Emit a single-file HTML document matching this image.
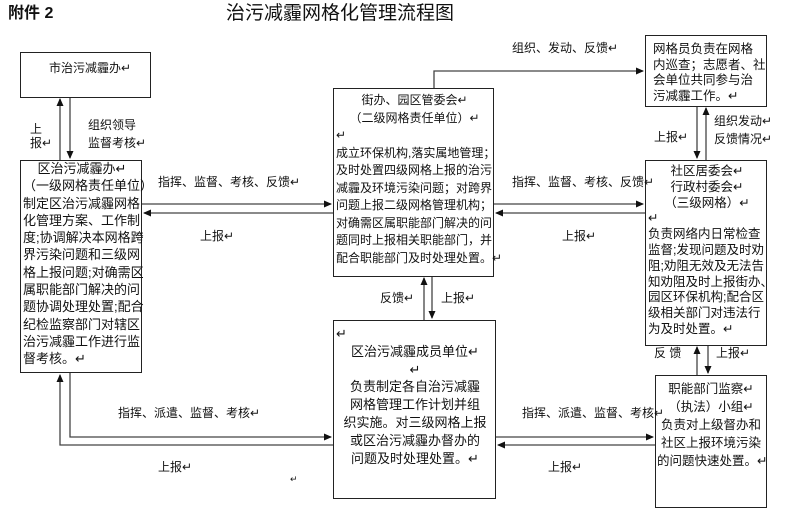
<!DOCTYPE html>
<html><head><meta charset="utf-8"><style>
body{margin:0;width:800px;height:530px;background:#fff;position:relative;overflow:hidden;font-family:"Liberation Sans","Noto Sans CJK SC",sans-serif;color:#111}
.b{position:absolute;border:1px solid #222;box-sizing:border-box;background:#fff}
.t{position:absolute;white-space:nowrap;font-size:12px;line-height:14px}
.bx{position:absolute;white-space:nowrap}
svg{position:absolute;left:0;top:0}
</style></head><body>
<svg width="800" height="530">
<defs><marker id="a" markerWidth="8" markerHeight="8" refX="7" refY="4" orient="auto" markerUnits="userSpaceOnUse"><path d="M0,0.5 L8,4 L0,7.5z" fill="#111"/></marker></defs>
<g stroke="#444" stroke-width="1.3" fill="none">
<line x1="60" y1="160" x2="60" y2="99" marker-end="url(#a)"/>
<line x1="70" y1="97" x2="70" y2="158" marker-end="url(#a)"/>
<line x1="142" y1="204" x2="331" y2="204" marker-end="url(#a)"/>
<line x1="333" y1="213" x2="144" y2="213" marker-end="url(#a)"/>
<line x1="494" y1="204" x2="643" y2="204" marker-end="url(#a)"/>
<line x1="645" y1="213" x2="496" y2="213" marker-end="url(#a)"/>
<polyline points="434,88 434,71 643,71" marker-end="url(#a)"/>
<line x1="697" y1="106" x2="697" y2="158" marker-end="url(#a)"/>
<line x1="706" y1="160" x2="706" y2="108" marker-end="url(#a)"/>
<line x1="424" y1="320" x2="424" y2="278" marker-end="url(#a)"/>
<line x1="432" y1="276" x2="432" y2="318" marker-end="url(#a)"/>
<polyline points="70,373 70,437 331,437" marker-end="url(#a)"/>
<polyline points="333,445 60,445 60,375" marker-end="url(#a)"/>
<line x1="496" y1="437" x2="653" y2="437" marker-end="url(#a)"/>
<line x1="655" y1="445" x2="498" y2="445" marker-end="url(#a)"/>
<line x1="697" y1="375" x2="697" y2="347" marker-end="url(#a)"/>
<line x1="708" y1="345" x2="708" y2="373" marker-end="url(#a)"/>
</g></svg>

<div class="t" style="left:8px;top:5px;font-size:16px;line-height:18px;font-weight:bold">附件 2</div>
<div class="t" style="left:226px;top:3px;font-size:19px;line-height:22px">治污减霾网格化管理流程图</div>

<div class="b" style="left:20px;top:52px;width:131px;height:46px"></div>
<div class="t" style="left:49px;top:61px">市治污减霾办↵</div>

<div class="b" style="left:20px;top:160px;width:122px;height:213px"></div>
<div class="bx" style="left:23px;top:160px;font-size:13px;line-height:17.3px;width:118px">
<div style="text-align:center">区治污减霾办↵</div><div>（一级网格责任单位）</div>
<div>制定区治污减霾网格</div><div>化管理方案、工作制</div><div>度;协调解决本网格跨</div><div>界污染问题和三级网</div><div>格上报问题;对确需区</div><div>属职能部门解决的问</div><div>题协调处理处置;配合</div><div>纪检监察部门对辖区</div><div>治污减霾工作进行监</div><div>督考核。↵</div></div>

<div class="b" style="left:333px;top:88px;width:161px;height:189px"></div>
<div class="bx" style="left:336px;top:92px;font-size:12px;line-height:17.5px;width:157px">
<div style="text-align:center">街办、园区管委会↵</div><div style="text-align:center">（二级网格责任单位）↵</div><div>↵</div>
<div>成立环保机构,落实属地管理；</div><div>及时处置四级网格上报的治污</div><div>减霾及环境污染问题；对跨界</div><div>问题上报二级网格管理机构；</div><div>对确需区属职能部门解决的问</div><div>题同时上报相关职能部门，并</div><div>配合职能部门及时处理处置。↵</div></div>

<div class="b" style="left:645px;top:35px;width:122px;height:72px"></div>
<div class="bx" style="left:653px;top:42px;font-size:12.5px;line-height:15.5px">
<div>网格员负责在网格</div><div>内巡查；志愿者、社</div><div>会单位共同参与治</div><div>污减霾工作。↵</div></div>

<div class="b" style="left:645px;top:160px;width:122px;height:186px"></div>
<div class="bx" style="left:648px;top:164px;font-size:12.5px;line-height:15.8px;width:118px">
<div style="text-align:center">社区居委会↵</div><div style="text-align:center">行政村委会↵</div><div style="text-align:center">（三级网格）↵</div><div>↵</div>
<div>负责网络内日常检查</div><div>监督;发现问题及时劝</div><div>阻;劝阻无效及无法告</div><div>知劝阻及时上报街办、</div><div>园区环保机构;配合区</div><div>级相关部门对违法行</div><div>为及时处置。↵</div></div>

<div class="b" style="left:333px;top:320px;width:163px;height:179px"></div>
<div class="bx" style="left:336px;top:325px;font-size:13px;line-height:17.8px;width:158px;text-align:center">
<div style="text-align:left">↵</div><div>区治污减霾成员单位↵</div><div>↵</div>
<div>负责制定各自治污减霾</div><div>网格管理工作计划并组</div><div>织实施。对三级网格上报</div><div>或区治污减霾办督办的</div><div>问题及时处理处置。↵</div></div>

<div class="b" style="left:655px;top:375px;width:112px;height:133px"></div>
<div class="bx" style="left:657px;top:380px;font-size:12.5px;line-height:18px;width:108px;text-align:center">
<div>职能部门监察↵</div><div>（执法）小组↵</div><div>负责对上级督办和</div><div>社区上报环境污染</div><div>的问题快速处置。↵</div></div>

<div class="t" style="left:30px;top:122px">上<br>报↵</div>
<div class="t" style="left:88px;top:116px;line-height:18px">组织领导<br>监督考核↵</div>
<div class="t" style="left:158px;top:175px">指挥、监督、考核、反馈↵</div>
<div class="t" style="left:200px;top:229px">上报↵</div>
<div class="t" style="left:512px;top:41px">组织、发动、反馈↵</div>
<div class="t" style="left:512px;top:175px">指挥、监督、考核、反馈↵</div>
<div class="t" style="left:562px;top:229px">上报↵</div>
<div class="t" style="left:654px;top:130px">上报↵</div>
<div class="t" style="left:714px;top:112px;line-height:18px">组织发动↵<br>反馈情况↵</div>
<div class="t" style="left:380px;top:291px">反馈↵</div>
<div class="t" style="left:441px;top:291px">上报↵</div>
<div class="t" style="left:654px;top:346px">反 馈</div>
<div class="t" style="left:716px;top:346px">上报↵</div>
<div class="t" style="left:118px;top:406px">指挥、派遣、监督、考核↵</div>
<div class="t" style="left:522px;top:406px">指挥、派遣、监督、考核↵</div>
<div class="t" style="left:158px;top:460px">上报↵</div>
<div class="t" style="left:548px;top:460px">上报↵</div>
<div class="t" style="left:290px;top:472px;font-size:9px">↵</div>
</body></html>
